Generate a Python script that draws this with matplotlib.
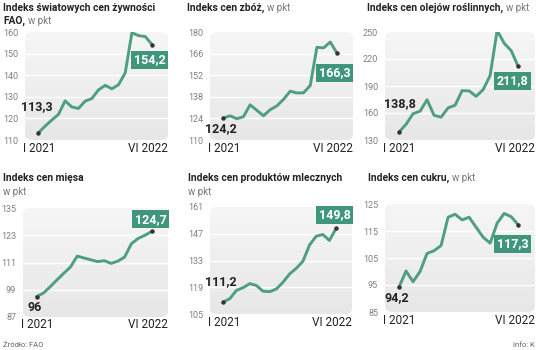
import matplotlib
matplotlib.use('Agg')
import matplotlib.pyplot as plt
import numpy as np
from matplotlib.patches import FancyBboxPatch

plt.rcParams['font.family'] = ['Roboto', 'DejaVu Sans']

# Data: monthly index values, I 2021 .. VI 2022
months = list(range(18))
food = [113.3, 116.4, 119.2, 121.8, 128.1, 125.3, 124.6, 128.0, 129.2,
        133.2, 135.3, 133.7, 135.6, 141.1, 159.7, 158.3, 157.9, 154.2]
cereals = [124.2, 125.7, 123.8, 125.1, 132.8, 129.3, 125.7, 129.6, 132.1,
           136.3, 141.6, 140.5, 140.6, 145.3, 170.1, 169.7, 173.5, 166.3]
oils = [138.8, 147.4, 159.2, 162.0, 174.7, 157.5, 155.4, 165.7, 168.6,
        184.8, 184.6, 178.5, 185.9, 201.7, 251.8, 237.5, 229.3, 211.8]
meat = [96.0, 97.5, 100.3, 103.3, 106.2, 109.0, 113.8, 113.0, 112.2,
        111.4, 111.8, 110.6, 111.6, 113.4, 119.3, 121.6, 123.0, 124.7]
dairy = [111.2, 113.1, 117.4, 118.8, 120.9, 119.9, 116.9, 116.7, 118.1,
         121.6, 126.0, 128.9, 132.6, 141.1, 145.7, 146.6, 143.5, 149.8]
sugar = [94.2, 100.2, 96.2, 100.0, 106.7, 107.7, 109.6, 120.1, 121.2,
         119.1, 120.1, 116.4, 112.7, 110.5, 117.9, 121.5, 120.3, 117.3]

titles_bold = ['Indeks światowych cen żywności\nFAO,', 'Indeks cen zbóż,',
               'Indeks cen olejów roślinnych,', 'Indeks cen mięsa',
               'Indeks cen produktów mlecznych', 'Indeks cen cukru,']
start_labels = ['113,3', '124,2', '138,8', '96', '111,2', '94,2']
end_labels = ['154,2', '166,3', '211,8', '124,7', '149,8', '117,3']
yticks = [[110, 120, 130, 140, 150, 160],
          [110, 124, 138, 152, 166, 180],
          [130, 160, 190, 220, 250],
          [87, 99, 111, 123, 135],
          [105, 119, 133, 147, 161],
          [85, 95, 105, 115, 125]]
series = [food, cereals, oils, meat, dairy, sugar]

W, H = 536, 350
GREEN = '#4f9e82'
BOX = '#3f967a'

fig = plt.figure(figsize=(W / 100, H / 100), dpi=100)

# axes boxes in pixels: left, top, right, bottom
boxes = [(25, 32, 168, 140), (210, 32, 353, 140), (385, 32, 535, 140),
         (23, 208, 168, 317), (210, 207, 352, 314), (385, 204, 535, 312)]
start_pos = [(0.08, 0.31), (0.077, 0.11), (0.10, 0.34),
             (0.083, 0.09), (0.077, 0.30), (0.077, 0.13)]
end_pos = [(0.87, 0.745), (0.87, 0.625), (0.85, 0.55),
           (0.88, 0.895), (0.877, 0.925), (0.85, 0.634)]
title_xy = [(3, 8), (187, 8), (367, 8), (3, 178), (188, 178), (368, 178)]

grad = np.linspace(0, 1, 100).reshape(-1, 1)
bg_cmap = matplotlib.colors.LinearSegmentedColormap.from_list('bg', ['#f6f6f6', '#e7e7e7'])

for i in range(6):
    l, t, r, b = boxes[i]
    ax = fig.add_axes([l / W, 1 - b / H, (r - l) / W, (b - t) / H])
    ax.set_xlim(-2, 19.4)
    lo, hi = yticks[i][0], yticks[i][-1]
    ax.set_ylim(lo, hi)

    # gradient background clipped to rounded box
    img = ax.imshow(grad, extent=(-2, 19.4, lo, hi), aspect='auto',
                    cmap=bg_cmap, origin='upper', zorder=0)
    patch = FancyBboxPatch((0, 0), 1, 1, boxstyle='round,pad=0,rounding_size=0.05',
                           transform=ax.transAxes, facecolor='none', edgecolor='none')
    ax.add_patch(patch)
    img.set_clip_path(patch)

    for y in yticks[i][1:-1]:
        ax.axhline(y, color='white', lw=1.0, zorder=1)

    ax.plot(months, series[i], color=GREEN, lw=2.1, zorder=3,
            solid_capstyle='round', solid_joinstyle='round')
    ax.plot([months[0], months[-1]], [series[i][0], series[i][-1]], 'o',
            color='#333333', ms=2.2, zorder=4)

    ax.set_yticks(yticks[i])
    ax.set_xticks([])
    ax.tick_params(axis='y', length=0, pad=5, labelsize=6.5, labelcolor='#808080')
    for s in ax.spines.values():
        s.set_visible(False)

    ax.text(start_pos[i][0], start_pos[i][1], start_labels[i], transform=ax.transAxes,
            ha='center', va='center', fontsize=9, fontweight='bold', color='#222222',
            zorder=5)
    ax.text(end_pos[i][0], end_pos[i][1], end_labels[i], transform=ax.transAxes,
            ha='center', va='center', fontsize=9, fontweight='bold', color='white',
            zorder=5, bbox=dict(boxstyle='square,pad=0.2', fc=BOX, ec='none'))

    ax.annotate('I 2021', (0, 0), xycoords='axes fraction', xytext=(-2, -8),
                textcoords='offset pixels', ha='left', va='center', fontsize=8.5,
                color='#222222')
    ax.annotate('VI 2022', (1, 0), xycoords='axes fraction', xytext=(0, -8),
                textcoords='offset pixels', ha='right', va='center', fontsize=8.5,
                color='#222222')

# titles
TS = 7.4
SS = 7
for i in range(6):
    x, y = title_xy[i]
    txt = titles_bold[i]
    if i == 0:
        fig.text(x / W, 1 - y / H, 'Indeks światowych cen żywności', ha='left',
                 va='center', fontsize=TS, fontweight='bold', color='#222222')
        t2 = fig.text(x / W, 1 - 21 / H, 'FAO,', ha='left', va='center', fontsize=TS,
                      fontweight='bold', color='#222222')
        fig.canvas.draw()
        bb = t2.get_window_extent()
        fig.text((bb.x1 + 3) / W, 1 - 21 / H, 'w pkt', ha='left', va='center',
                 fontsize=SS, color='#777777')
    elif i in (3, 4):
        fig.text(x / W, 1 - y / H, txt, ha='left', va='center', fontsize=TS,
                 fontweight='bold', color='#222222')
        fig.text(x / W, 1 - 192 / H, 'w pkt', ha='left', va='center', fontsize=SS,
                 color='#777777')
    else:
        t1 = fig.text(x / W, 1 - y / H, txt, ha='left', va='center', fontsize=TS,
                      fontweight='bold', color='#222222')
        fig.canvas.draw()
        bb = t1.get_window_extent()
        fig.text((bb.x1 + 3) / W, 1 - y / H, 'w pkt', ha='left', va='center',
                 fontsize=SS, color='#777777')

fig.text(3 / W, 1 - 345 / H, 'Źródło: FAO', ha='left', va='center', fontsize=5.5,
         color='#666666')
fig.text(535 / W, 1 - 345 / H, 'Info: K', ha='right', va='center', fontsize=5.5,
         color='#666666')

fig.savefig('out.png', dpi=100)
